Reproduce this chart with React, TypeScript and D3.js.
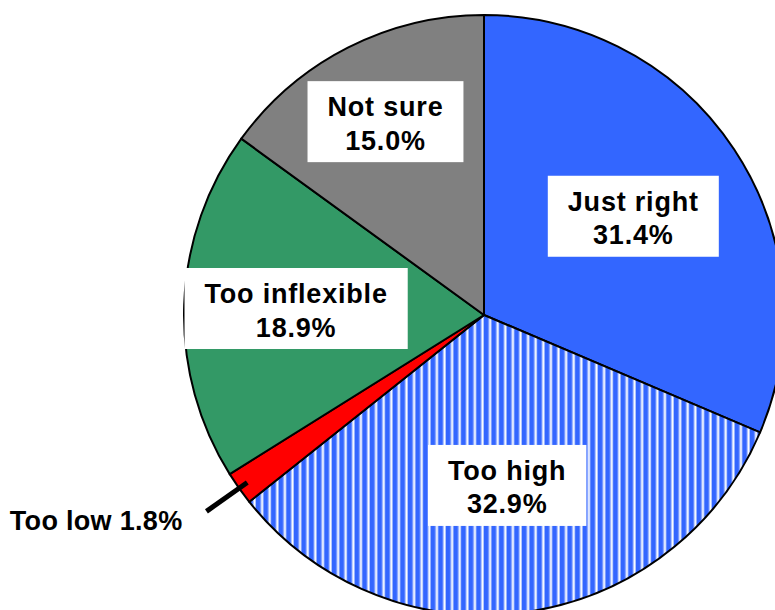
import React, { useEffect, useRef } from "react";
import * as d3 from "d3";

const categories = ["Just right", "Too high", "Too low", "Too inflexible", "Not sure"];
const values = [31.4, 32.9, 1.8, 18.9, 15.0];
const fills = ["#3366FF", "url(#stripes)", "#FF0000", "#339966", "#808080"];
// layout: distance of each inside label from the centre (null = outside label)
const labelRadius: (number | null)[] = [179, 172, null, 188, 217];

const W = 775;
const H = 610;
const CX = 484;
const CY = 315;
const R = 300;
const FONT = "'Liberation Sans', Arial, Helvetica, sans-serif";
const FS = 27;

export default function App() {
  const ref = useRef<SVGSVGElement>(null);

  useEffect(() => {
    const svg = d3.select(ref.current!);
    svg.selectAll("*").remove();

    const defs = svg.append("defs");
    const pat = defs
      .append("pattern")
      .attr("id", "stripes")
      .attr("patternUnits", "userSpaceOnUse")
      .attr("width", 7.6)
      .attr("height", 10);
    pat.append("rect").attr("width", 7.6).attr("height", 10).attr("fill", "#ffffff");
    pat.append("rect").attr("x", 0).attr("width", 4.6).attr("height", 10).attr("fill", "#3366FF");
    pat.append("rect").attr("x", 4.6).attr("width", 0.9).attr("height", 10).attr("fill", "#a9c0ff");
    pat.append("rect").attr("x", 6.7).attr("width", 0.9).attr("height", 10).attr("fill", "#a9c0ff");

    const g = svg.append("g").attr("transform", `translate(${CX},${CY})`);
    const pie = d3
      .pie<number>()
      .sort(null)
      .value((d) => d);
    const arcs = pie(values);
    const arc = d3.arc<d3.PieArcDatum<number>>().innerRadius(0).outerRadius(R);

    g.selectAll("path.slice")
      .data(arcs)
      .enter()
      .append("path")
      .attr("class", "slice")
      .attr("d", arc as any)
      .attr("fill", (_d, i) => fills[i])
      .attr("stroke", "#000")
      .attr("stroke-width", 2)
      .attr("stroke-linejoin", "round");

    arcs.forEach((a, i) => {
      const mid = (a.startAngle + a.endAngle) / 2;
      const lr = labelRadius[i];
      const pct = values[i].toFixed(1) + "%";
      if (lr !== null) {
        const x = Math.sin(mid) * lr;
        const y = -Math.cos(mid) * lr;
        const lg = g.append("g").attr("transform", `translate(${x},${y})`);
        const rect = lg.append("rect").attr("fill", "#fff");
        const t1 = lg
          .append("text")
          .attr("text-anchor", "middle")
          .attr("y", -5.5)
          .attr("font-family", FONT)
          .attr("font-weight", "bold")
          .attr("font-size", FS)
          .attr("letter-spacing", 0.8)
          .attr("fill", "#000")
          .text(categories[i]);
        const t2 = lg
          .append("text")
          .attr("text-anchor", "middle")
          .attr("y", 28)
          .attr("font-family", FONT)
          .attr("font-weight", "bold")
          .attr("font-size", FS)
          .attr("letter-spacing", 0.8)
          .attr("fill", "#000")
          .text(pct);
        const w = Math.max(
          (t1.node() as SVGTextElement).getComputedTextLength(),
          (t2.node() as SVGTextElement).getComputedTextLength()
        );
        const bw = w + 40;
        rect
          .attr("x", -bw / 2)
          .attr("y", -40.5)
          .attr("width", bw)
          .attr("height", 81);
      } else {
        const x1 = Math.sin(mid) * 290;
        const y1 = -Math.cos(mid) * 290;
        const x2 = Math.sin(mid) * 340;
        const y2 = -Math.cos(mid) * 340;
        g.append("line")
          .attr("x1", x1)
          .attr("y1", y1)
          .attr("x2", x2)
          .attr("y2", y2)
          .attr("stroke", "#000")
          .attr("stroke-width", 5);
        g.append("text")
          .attr("x", x2 - 24)
          .attr("y", y2 + 19)
          .attr("text-anchor", "end")
          .attr("font-family", FONT)
          .attr("font-weight", "bold")
          .attr("font-size", FS)
          .attr("letter-spacing", 0.3)
          .attr("fill", "#000")
          .text(`${categories[i]} ${pct}`);
      }
    });
  }, []);

  return (
    <svg
      ref={ref}
      width={W}
      height={H}
      style={{ position: "absolute", left: 0, top: 0, background: "#fff" }}
    />
  );
}
